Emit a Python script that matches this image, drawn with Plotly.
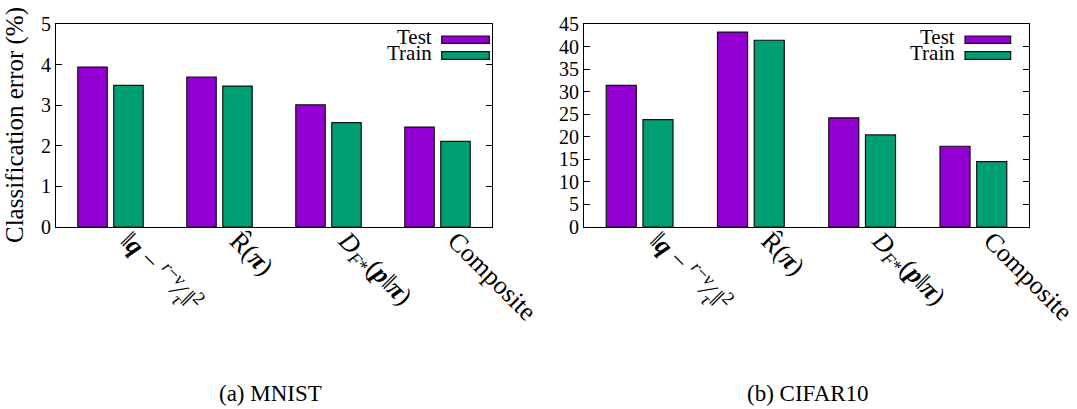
import plotly.graph_objects as go
from plotly.subplots import make_subplots

methods = [
    "‖<b><i>q</i></b> − <sup><i>r</i>−<i>v</i></sup>⁄<sub><i>τ</i></sub>‖<sup>2</sup>",
    "R̂(<b><i>π</i></b>)",
    "<i>D</i><sub><i>F</i>*</sub>(<b><i>p</i></b>‖<b><i>π</i></b>)",
    "Composite",
]
mnist_test = [3.94, 3.69, 3.01, 2.46]
mnist_train = [3.49, 3.47, 2.57, 2.11]
cifar_test = [31.4, 43.2, 24.2, 17.9]
cifar_train = [23.8, 41.4, 20.4, 14.5]
series_names = ["Test", "Train"]
captions = ["(a) MNIST", "(b) CIFAR10"]
y_title = "Classification error (%)"

PURPLE = "#9400D3"
GREEN = "#009E73"
FONT = "Liberation Serif, Times New Roman, serif"
W, H = 1077, 409

fig = make_subplots(rows=1, cols=2)
xs = list(range(len(methods)))

for col, (test, train) in enumerate([(mnist_test, mnist_train), (cifar_test, cifar_train)], start=1):
    for vals, color, off in [(test, PURPLE, -0.30), (train, GREEN, 0.03)]:
        fig.add_trace(go.Bar(x=xs, y=vals, width=0.27, offset=off,
                             marker=dict(color=color, line=dict(color="#111111", width=1.2)),
                             showlegend=False, hoverinfo="skip"), row=1, col=col)

left = (56, 492)
right = (584, 1029)
ytop, ybot = 24, 227
ydom = [1 - ybot / H, 1 - ytop / H]

axcommon = dict(showline=True, linecolor="black", linewidth=1, mirror=True, showgrid=False,
                zeroline=False, automargin=False)
xtf = dict(size=26, family=FONT, color="black")
ytf = dict(size=20, family=FONT, color="black")
xcommon = dict(range=[-0.5, 3.5], tickvals=xs, ticktext=methods, tickangle=45, ticks="",
               tickfont=xtf, ticklabelshift=18, ticklabelstandoff=-13,
               ticklabeloverflow="allow", **axcommon)
fig.update_layout(
    template="none",
    xaxis=dict(domain=[left[0] / W, left[1] / W], **xcommon),
    xaxis2=dict(domain=[right[0] / W, right[1] / W], **xcommon),
    yaxis=dict(domain=ydom, range=[0, 5], dtick=1, ticks="inside", ticklen=6, tickcolor="black",
               tickfont=ytf, **{**axcommon, "mirror": "allticks"}),
    yaxis2=dict(domain=ydom, range=[0, 45], dtick=5, ticks="inside", ticklen=6, tickcolor="black",
                tickfont=ytf, **{**axcommon, "mirror": "allticks"}),
    width=W, height=H, margin=dict(l=0, r=0, t=0, b=0),
    plot_bgcolor="white", paper_bgcolor="white",
    font=dict(family=FONT, color="black"),
)

# y-axis title
fig.add_annotation(xref="paper", yref="paper", x=15 / W, y=1 - 125 / H, text=y_title, textangle=-90,
                   showarrow=False, xanchor="center", yanchor="middle",
                   font=dict(size=25, family=FONT, color="black"))

colors = [PURPLE, GREEN]
key_rows = [(36, 43.3), (51.7, 59.3)]
for (x0, x1), xr, yr, tx in [((441.7, 489.3), "x domain", "y domain", 434),
                             ((965, 1010.7), "x2 domain", "y2 domain", 957)]:
    dl, dr = (left if xr == "x domain" else right)
    for (ya, yb), name, c in zip(key_rows, series_names, colors):
        fig.add_shape(type="rect", xref=xr, yref=yr,
                      x0=(x0 - dl) / (dr - dl), x1=(x1 - dl) / (dr - dl),
                      y0=(ybot - yb) / (ybot - ytop), y1=(ybot - ya) / (ybot - ytop),
                      fillcolor=c, line=dict(color="#111111", width=1.2))
        fig.add_annotation(xref=xr, yref=yr, x=(tx - dl) / (dr - dl),
                           y=(ybot - (ya + yb) / 2 + 2.5) / (ybot - ytop),
                           text=name, showarrow=False, xanchor="right", yanchor="middle",
                           font=dict(size=21, family=FONT, color="black"))

for cx, cap in zip([270, 808], captions):
    fig.add_annotation(xref="paper", yref="paper", x=cx / W, y=1 - 393 / H, text=cap,
                       showarrow=False, xanchor="center", yanchor="middle",
                       font=dict(size=23, family=FONT, color="black"))

fig.write_html("out.html", config={"displayModeBar": False},
               post_script="document.body.style.margin='0';document.body.style.overflow='hidden';")
